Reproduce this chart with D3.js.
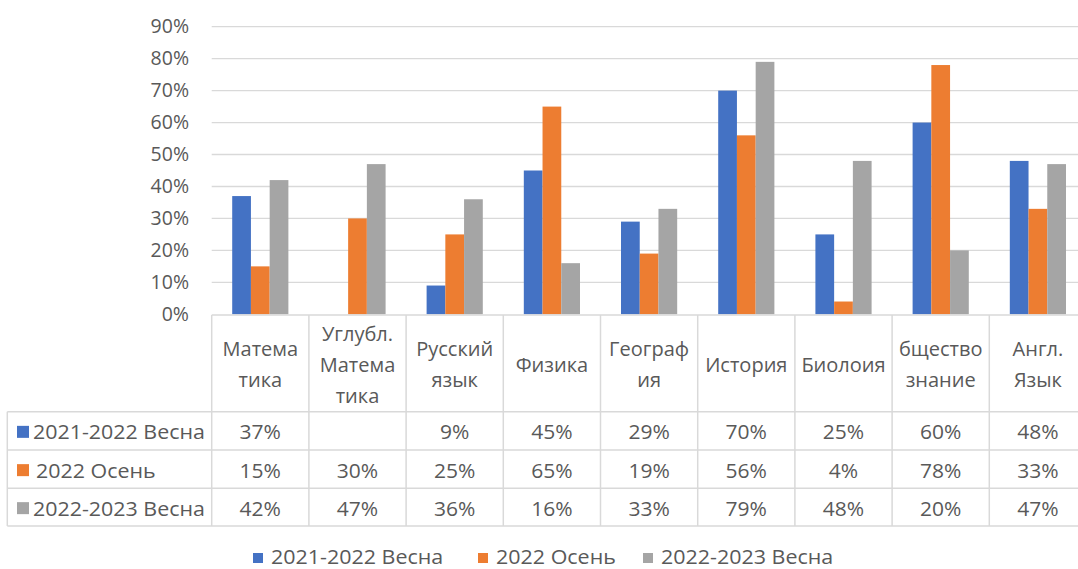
<!DOCTYPE html>
<html>
<head>
<meta charset="utf-8">
<script src="https://cdn.jsdelivr.net/npm/d3@7"></script>
<style>
  html, body { margin: 0; padding: 0; background: #fff; overflow: hidden; }
  svg text { font-family: "Open Sans", "Noto Sans", sans-serif; fill: #595959; }
</style>
</head>
<body>
<svg id="chart" width="1078" height="569"></svg>
<script>
// ---- data ----
const categories = [
  ["Матема", "тика"],
  ["Углубл.", "Матема", "тика"],
  ["Русский", "язык"],
  ["Физика"],
  ["Географ", "ия"],
  ["История"],
  ["Биолоия"],
  ["бщество", "знание"],
  ["Англ.", "Язык"]
];
const seriesNames = ["2021-2022 Весна", "2022 Осень", "2022-2023 Весна"];
const vesna2122 = [37, null, 9, 45, 29, 70, 25, 60, 48];
const osen22    = [15, 30, 25, 65, 19, 56, 4, 78, 33];
const vesna2223 = [42, 47, 36, 16, 33, 79, 48, 20, 47];
const yTicks = [0, 10, 20, 30, 40, 50, 60, 70, 80, 90];
const colors = ["#4472C4", "#ED7D31", "#A5A5A5"];

const seriesValues = [vesna2122, osen22, vesna2223];
const series = seriesNames.map((name, i) => ({ name, values: seriesValues[i], color: colors[i] }));

// ---- layout ----
const svg = d3.select("#chart");
const plotLeft = 211.7, catW = 97.2;
const plotRight = plotLeft + catW * categories.length;
const yTop = 26.7, yBottom = 314.3;
const tableLeft = 7.3;
const headerBottom = 411.7;
const rowLines = [411.7, 450, 488.3, 526];
const gridColor = "#d9d9d9";
const fontSize = 20;

function stretch(sel, f) {
  sel.each(function () {
    const w = this.getComputedTextLength();
    if (w > 0) d3.select(this).attr("textLength", w * f).attr("lengthAdjust", "spacingAndGlyphs");
  });
}

const x0 = d3.scaleBand().domain(d3.range(categories.length)).range([plotLeft, plotRight]).padding(0);
const gapRatio = 2.19;
const barW = x0.bandwidth() / (3 + gapRatio);
const x1 = d3.scaleBand().domain(d3.range(series.length))
  .range([barW * gapRatio / 2, barW * gapRatio / 2 + 3 * barW]).padding(0);
const y = d3.scaleLinear().domain([0, 90]).range([yBottom, yTop]);

// gridlines
svg.append("g").selectAll("line").data(yTicks.filter(t => t > 0)).join("line")
  .attr("x1", plotLeft).attr("x2", 1078)
  .attr("y1", d => y(d)).attr("y2", d => y(d))
  .attr("stroke", gridColor).attr("stroke-width", 1.3);

// y axis labels
const yAxis = d3.axisLeft(y).tickValues(yTicks).tickFormat(d => d + "%").tickSize(0).tickPadding(0);
const yg = svg.append("g").attr("transform", `translate(189,0)`).call(yAxis);
yg.select(".domain").remove();
yg.selectAll("text").attr("font-size", 19.5).attr("font-family", null).style("fill", "#595959");

// bars
const groups = svg.append("g").selectAll("g").data(categories).join("g")
  .attr("transform", (d, i) => `translate(${x0(i)},0)`);
groups.selectAll("rect")
  .data((d, i) => series.map((s, j) => ({ j, v: s.values[i], color: s.color })).filter(e => e.v != null))
  .join("rect")
  .attr("x", e => x1(e.j))
  .attr("width", x1.bandwidth())
  .attr("y", e => y(e.v))
  .attr("height", e => y(0) - y(e.v))
  .attr("fill", e => e.color);

// ---- data table ----
const tg = svg.append("g");
tg.append("line").attr("x1", plotLeft).attr("x2", plotRight).attr("y1", 315).attr("y2", 315)
  .attr("stroke", gridColor).attr("stroke-width", 1.5);
tg.selectAll(".hl").data(rowLines).join("line")
  .attr("x1", tableLeft).attr("x2", plotRight)
  .attr("y1", d => d).attr("y2", d => d)
  .attr("stroke", gridColor).attr("stroke-width", 1.5);
tg.append("line").attr("x1", tableLeft).attr("x2", tableLeft).attr("y1", headerBottom).attr("y2", 526)
  .attr("stroke", gridColor).attr("stroke-width", 1.5);
tg.selectAll(".vl").data(d3.range(categories.length + 1)).join("line")
  .attr("x1", i => plotLeft + i * x0.bandwidth()).attr("x2", i => plotLeft + i * x0.bandwidth())
  .attr("y1", 315).attr("y2", 526)
  .attr("stroke", gridColor).attr("stroke-width", 1.5);

// header labels
const headerMid = (315 + headerBottom) / 2 + 1;
const lineH = 31;
const hdr = tg.selectAll(".hdr").data(categories).join("text")
  .attr("text-anchor", "middle")
  .attr("font-size", fontSize);
hdr.each(function (lines, i) {
  const t = d3.select(this);
  const cx = x0(i) + x0.bandwidth() / 2;
  lines.forEach((ln, k) => {
    t.append("tspan").attr("x", cx)
      .attr("y", headerMid + (k - (lines.length - 1) / 2) * lineH)
      .attr("dominant-baseline", "central")
      .text(ln);
  });
});

// rows
series.forEach((s, r) => {
  const cy = (rowLines[r] + rowLines[r + 1]) / 2 + 1;
  tg.append("rect").attr("x", 17).attr("y", cy - 6).attr("width", 12).attr("height", 12).attr("fill", s.color);
  const lbl = tg.append("text").attr("x", r === 1 ? 36 : 33).attr("y", cy)
    .attr("dominant-baseline", "central").attr("font-size", fontSize).text(s.name);
  stretch(lbl, 1.07);
  const vals = tg.selectAll(".v" + r).data(s.values).join("text")
    .attr("x", (d, i) => x0(i) + x0.bandwidth() / 2)
    .attr("y", cy)
    .attr("text-anchor", "middle").attr("dominant-baseline", "central")
    .attr("font-size", fontSize)
    .text(d => d == null ? "" : d + "%");
  stretch(vals, 1.05);
});

// ---- bottom legend ----
const legendX = [253, 478, 643];
const lg = svg.append("g");
series.forEach((s, i) => {
  lg.append("rect").attr("x", legendX[i]).attr("y", 553).attr("width", 10).attr("height", 10).attr("fill", s.color);
  const t = lg.append("text").attr("x", legendX[i] + 18).attr("y", 563.5)
    .attr("font-size", 19.5).text(s.name);
  stretch(t, 1.1);
});
</script>
</body>
</html>
